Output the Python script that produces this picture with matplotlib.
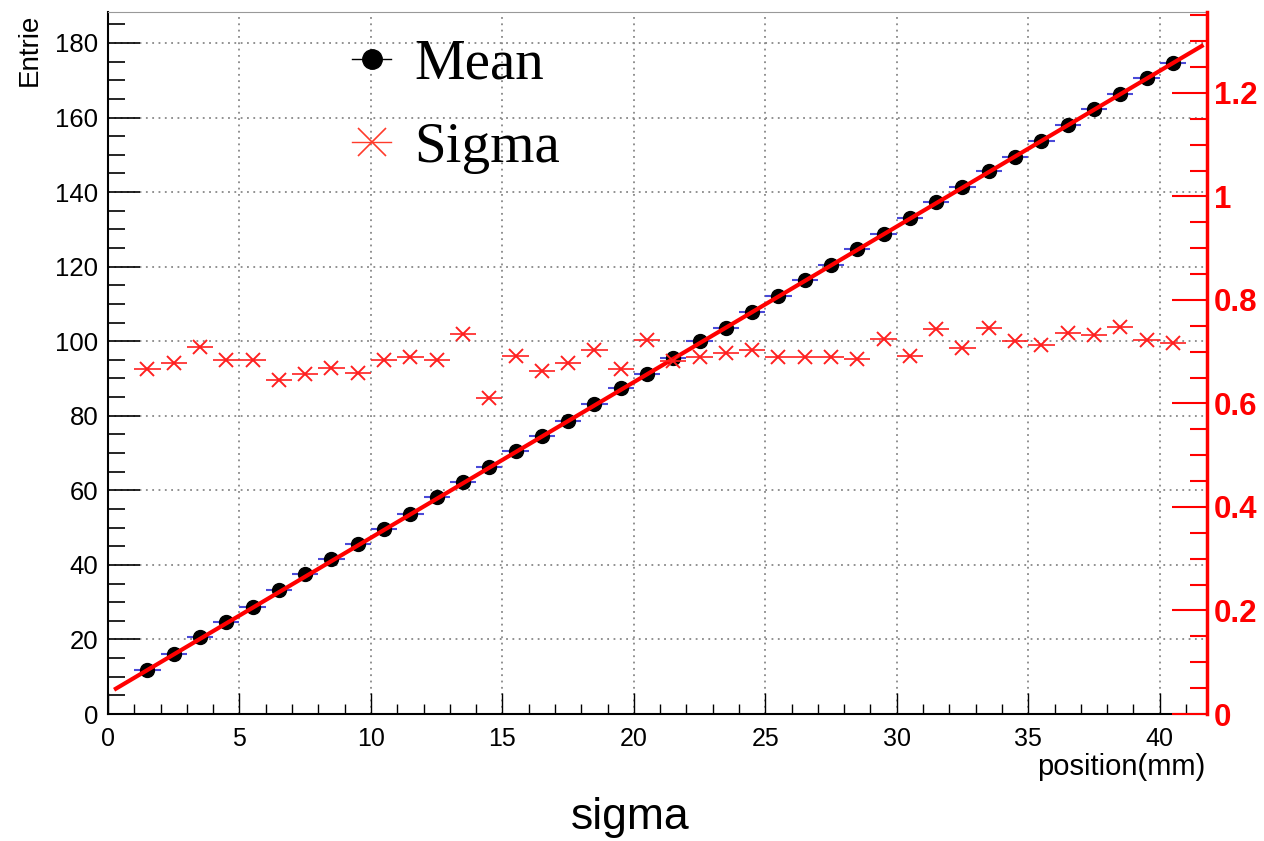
#!/usr/bin/env python3
"""Mean and sigma of the peak position versus scan position (ROOT style plot)."""

import numpy as np
import matplotlib.pyplot as plt
from matplotlib.lines import Line2D
from matplotlib.ticker import MultipleLocator

plt.rcParams['font.family'] = ['Liberation Sans', 'DejaVu Sans']

# bin centres along the scan (mm)
positions = [i + 0.5 for i in range(1, 41)]

# fitted mean of each bin (left axis)
mean_values = [11.8, 16.1, 20.7, 24.7, 28.7, 33.3, 37.6, 41.6, 45.6, 49.6,
               53.6, 58.2, 62.2, 66.3, 70.5, 74.6, 78.6, 83.2, 87.4, 91.2,
               95.5, 100.1, 103.5, 107.8, 112.1, 116.4, 120.4, 124.7, 128.8, 133.0,
               137.3, 141.4, 145.6, 149.4, 153.7, 158.0, 162.3, 166.3, 170.6, 174.6]

# fitted sigma of each bin (right axis)
sigma_values = [0.667, 0.678, 0.709, 0.684, 0.684, 0.645, 0.657, 0.669, 0.659, 0.684,
                0.690, 0.684, 0.734, 0.611, 0.692, 0.663, 0.678, 0.703, 0.667, 0.723,
                0.682, 0.690, 0.698, 0.703, 0.690, 0.690, 0.690, 0.686, 0.725, 0.692,
                0.743, 0.707, 0.745, 0.721, 0.713, 0.736, 0.732, 0.748, 0.723, 0.717]

# linear fit of the mean
fit_slope = 4.174
fit_offset = 5.54
fit_range = [0.3, 41.6]

W, H = 1264, 841
fig = plt.figure(figsize=(W / 100, H / 100), dpi=100)
ax = fig.add_axes([108 / W, 127 / H, 1099 / W, 702 / H])
ax2 = ax.twinx()

# mean points with blue x-errors, fit line on top
ax.errorbar(positions, mean_values, xerr=0.5, fmt='o', color='black',
            ecolor='#4a4ad8', elinewidth=1.5, markersize=10, zorder=3)
fx = np.array(fit_range)
ax.plot(fx, fit_offset + fit_slope * fx, color='#ff0000', lw=3, zorder=4)

# sigma points on the right axis
ax2.errorbar(positions, sigma_values, xerr=0.5, fmt='x', color='#ff2020',
             ecolor='#ff2020', elinewidth=1.2, markersize=10, mew=1.4, zorder=3)

ax.set_xlim(0, 41.8)
ax.set_ylim(0, 188.3)
ax2.set_ylim(0, 1.3565)

# grid
ax.grid(which='major', color='#888888', linestyle=(0, (1, 2.5)), lw=1.3)
ax.set_axisbelow(True)

# left / bottom axis
ax.xaxis.set_major_locator(MultipleLocator(5))
ax.xaxis.set_minor_locator(MultipleLocator(1))
ax.yaxis.set_major_locator(MultipleLocator(20))
ax.yaxis.set_minor_locator(MultipleLocator(5))
ax.tick_params(axis='x', which='major', direction='in', length=15, width=1, pad=9, labelsize=18)
ax.tick_params(axis='x', which='minor', direction='in', length=7.5, width=1)
ax.tick_params(axis='y', which='major', direction='in', length=23, width=1.2, pad=7, labelsize=18.5)
ax.tick_params(axis='y', which='minor', direction='in', length=12, width=1.2)
ax.tick_params(right=False, top=False, which='both')
ax.spines['right'].set_visible(False)
ax.spines['top'].set_color('#999999')
ax.spines['left'].set_linewidth(1.5)
ax.spines['bottom'].set_linewidth(1.5)

# red right axis
ax2.yaxis.set_major_locator(MultipleLocator(0.2))
ax2.yaxis.set_minor_locator(MultipleLocator(0.05))
ax2.yaxis.set_major_formatter(plt.FuncFormatter(lambda v, p: f'{v:g}'))
ax2.tick_params(axis='y', which='major', direction='in', length=25, width=1.5,
                color='#ff0000', labelcolor='#ff0000', pad=5, labelsize=22.5)
ax2.tick_params(axis='y', which='minor', direction='in', length=12, width=1.5, color='#ff0000')
for lab in ax2.get_yticklabels():
    lab.set_fontweight('bold')
for side in ['left', 'top', 'bottom']:
    ax2.spines[side].set_visible(False)
ax2.spines['right'].set_color('#ff0000')
ax2.spines['right'].set_linewidth(2.5)

# legend
handles = [Line2D([], [], color='black', marker='o', markersize=14, lw=1),
           Line2D([], [], color='#ff3b2b', marker='x', markersize=20, mew=1.2, lw=1)]
ax.legend(handles, ['Mean', 'Sigma'], loc='upper left', bbox_to_anchor=(0.175, 1.035),
          frameon=False, handlelength=0.7, handletextpad=0.4, labelspacing=0.55,
          prop={'family': 'Liberation Serif', 'size': 41})

# axis titles
fig.text(30 / W, 1 - 14 / H, 'Entrie', rotation=90, ha='center', va='top', fontsize=20)
fig.text(1205 / W, 1 - 767 / H, 'position(mm)', ha='right', va='center', fontsize=21)
fig.text(630 / W, 1 - 818 / H, 'sigma', ha='center', va='center', fontsize=32)

fig.savefig('out.png', dpi=100)
